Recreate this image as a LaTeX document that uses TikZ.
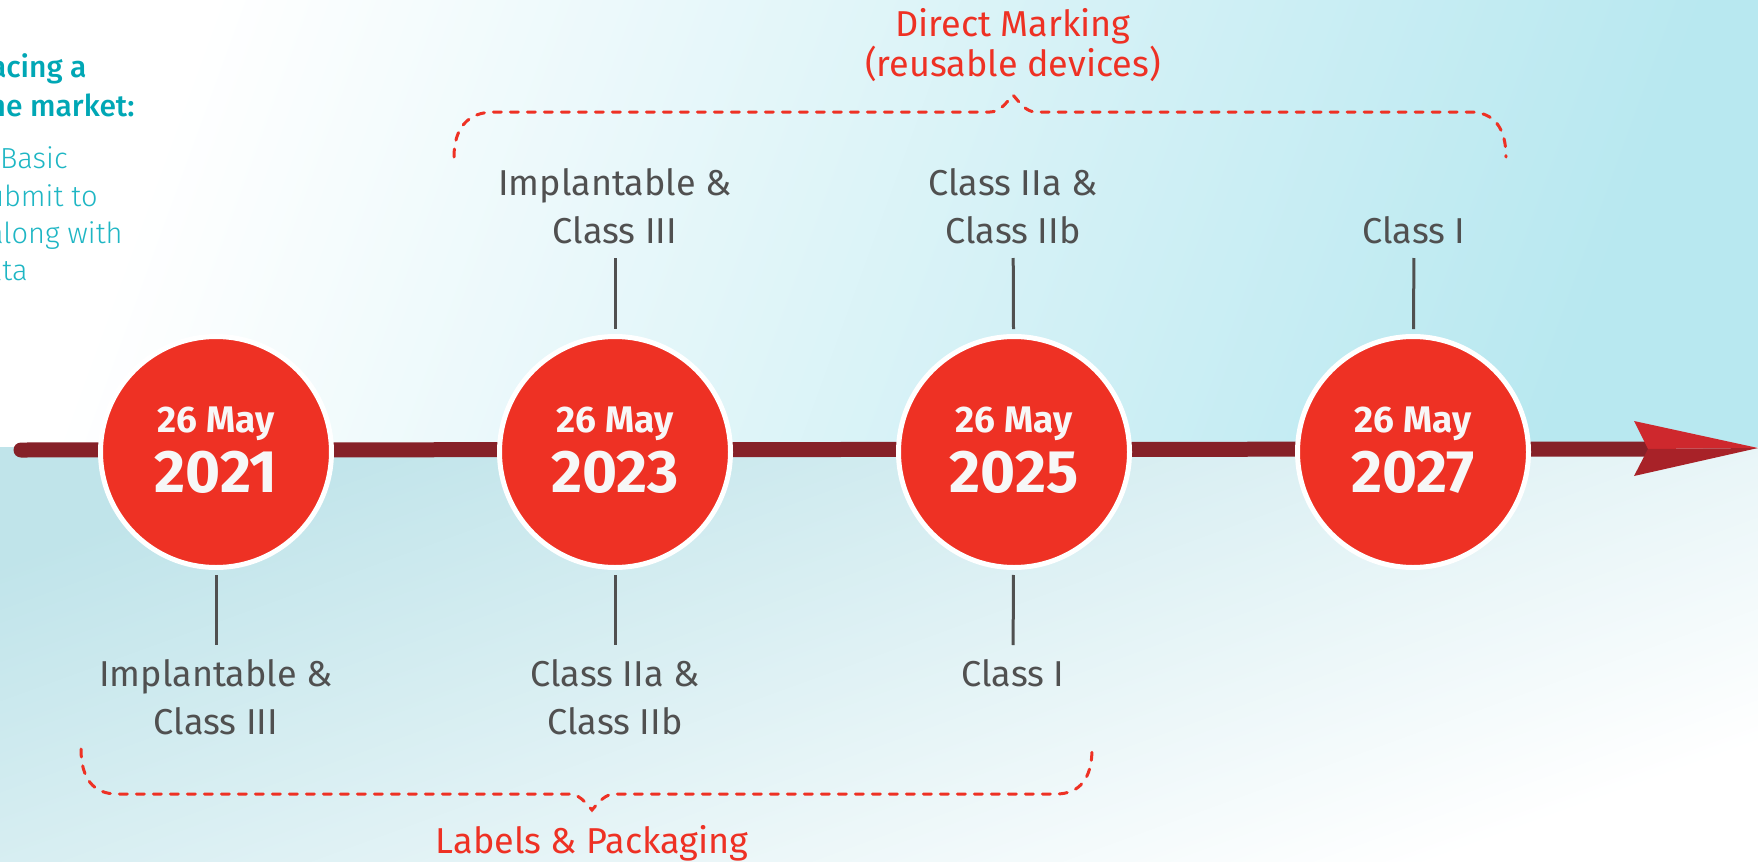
\documentclass[tikz,border=0pt]{standalone}
\usepackage{fontspec}
\setmainfont{Fira Sans}
\newfontfamily\lightfont{Fira Sans Light}
\newfontfamily\mediumfont{Fira Sans Medium}
\definecolor{bar_red}{RGB}{134, 33, 40}
\definecolor{date_red}{RGB}{238, 49, 36}
\definecolor{date_white}{RGB}{247, 247, 247}
\definecolor{head_light}{RGB}{206, 40, 45}
\definecolor{head_dark}{RGB}{168, 34, 40}
\definecolor{label_gray}{RGB}{80, 80, 80}
\definecolor{bg_cyan}{RGB}{184, 232, 240}
\definecolor{bg_blue}{RGB}{192, 228, 234}
\definecolor{note_teal}{RGB}{0, 167, 181}
\definecolor{note_light}{RGB}{30, 182, 196}

\begin{document}
\begin{tikzpicture}[x=0.5pt, y=-0.5pt,
  datecirc/.style={circle, fill=date_red, draw=white, line width=2.5pt, minimum size=115.5pt, inner sep=0pt},
  daytxt/.style={font=\bfseries\fontsize{18.5}{18.5}\selectfont, text=date_white, anchor=base, inner sep=0pt},
  yeartxt/.style={font=\bfseries\fontsize{30}{30}\selectfont, text=date_white, anchor=base, inner sep=0pt},
  cls/.style={font=\fontsize{18}{24}\selectfont, text=label_gray, align=center, inner sep=0pt, outer sep=7pt},
  tick/.style={draw=label_gray, line width=1.5pt},
  brace/.style={draw=date_red, line width=1.5pt, line cap=round, dash pattern=on 4pt off 4.5pt},
  marktxt/.style={font=\fontsize{18}{20}\selectfont, text=date_red, align=center, inner sep=0pt},
  notebold/.style={font=\mediumfont\fontsize{15}{19}\selectfont, text=note_teal, anchor=base east, inner sep=0pt},
  notelight/.style={font=\lightfont\fontsize{14.5}{19}\selectfont, text=note_light, anchor=base east, inner sep=0pt}]
\useasboundingbox (0,0) rectangle (1758,862);
\clip (0,0) rectangle (1758,862);

% background
\shade[top color=bg_cyan, bottom color=white, shading angle=-110] (0,0) rectangle (1758,447);
\shade[top color=bg_blue, bottom color=white, shading angle=20] (0,447) rectangle (1758,862);

% timeline
\coordinate (tstart) at (21,450);
\coordinate (notch) at (1648,449);
\coordinate (tip) at (1758,448);
\draw[bar_red, line width=7.5pt, line cap=round] (tstart) -- (notch);
\fill[head_light] (1634,421) -- (tip) -- (notch) -- cycle;
\fill[head_dark] (notch) -- (tip) -- (1634,476) -- cycle;

\foreach \yr/\xc in {2021/216, 2023/615, 2025/1014, 2027/1413} {
  \node[datecirc] (c\yr) at (\xc,452) {};
  \node[daytxt] at (\xc,432) {26 May};
  \node[yeartxt] at (\xc,492) {\yr};
}

% classes above
\node[cls, anchor=south] (t2023) at (615,258) {Implantable \&\\Class III};
\node[cls, anchor=south] (t2025) at (1013,258) {Class IIa \&\\Class IIb};
\node[cls, anchor=south] (t2027) at (1414,258) {Class I};
% classes below
\node[cls, anchor=north] (b2021) at (216,645) {Implantable \&\\Class III};
\node[cls, anchor=north] (b2023) at (615,645) {Class IIa \&\\Class IIb};
\node[cls, anchor=north] (b2025) at (1013,645) {Class I};

\foreach \yr in {2023,2025,2027}
  \draw[tick, shorten >=2.5pt] (t\yr) -- (c\yr);
\foreach \yr in {2021,2023,2025}
  \draw[tick, shorten <=2.5pt] (c\yr) -- (b\yr);

% braces
\draw[brace] (454,157) .. controls (454,128) and (468,112) .. (494,112) -- (990,112)
  .. controls (1000,112) and (1006,103) .. (1013,95) .. controls (1020,103) and (1026,112) .. (1036,112)
  -- (1470,112) .. controls (1494,112) and (1506,128) .. (1506,157);
\draw[brace] (81,749) .. controls (81,778) and (93,794) .. (117,794) -- (569,794)
  .. controls (579,794) and (585,802) .. (592,810) .. controls (599,802) and (605,794) .. (615,794)
  -- (1056,794) .. controls (1080,794) and (1092,778) .. (1092,749);
\node[marktxt, anchor=north] (direct) at (1013,8) {Direct Marking\\(reusable devices)};
\node[marktxt, anchor=base] (labels) at (592,853) {Labels \& Packaging};

% cut-off note on the left
\node[notebold] (n1) at (87,77) {acing a};
\node[notebold] (n2) at (135,116) {he market:};
\node[notelight] (n3) at (68,168) {Basic};
\node[notelight] (n4) at (98,206) {ubmit to};
\node[notelight] (n5) at (123,243) {along with};
\node[notelight] (n6) at (28,280) {ata};
\end{tikzpicture}
\end{document}
